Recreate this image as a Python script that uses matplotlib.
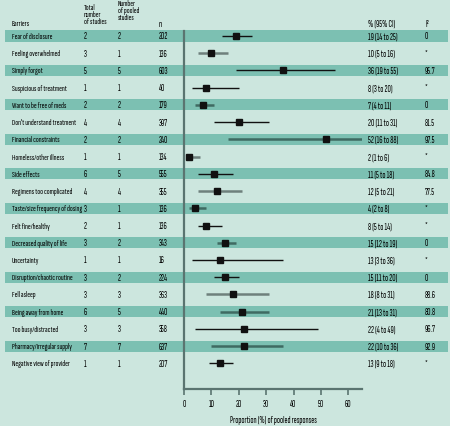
import matplotlib
matplotlib.use("Agg")
import matplotlib.pyplot as plt
from matplotlib.transforms import blended_transform_factory
from matplotlib.patches import Rectangle

plt.rcParams['font.family'] = ['Sofia Sans Extra Condensed', 'DejaVu Sans']

barriers = ["Fear of disclosure", "Feeling overwhelmed", "Simply forgot",
            "Suspicious of treatment", "Want to be free of meds",
            "Don't understand treatment", "Financial constraints",
            "Homeless/other illness", "Side effects", "Regimens too complicated",
            "Taste/size frequency of dosing", "Felt fine/healthy",
            "Decreased quality of life", "Uncertainty",
            "Disruption/chaotic routine", "Fell asleep", "Being away from home",
            "Too busy/distracted", "Pharmacy/irregular supply",
            "Negative view of provider"]
total_studies = [2, 3, 5, 1, 2, 4, 2, 1, 6, 4, 3, 2, 3, 1, 3, 3, 6, 3, 7, 1]
pooled_studies = [2, 1, 5, 1, 2, 4, 2, 1, 5, 4, 1, 1, 2, 1, 2, 3, 5, 3, 7, 1]
n_resp = [202, 136, 603, 40, 179, 397, 240, 134, 555, 355, 136, 136, 343, 16,
          224, 363, 440, 358, 637, 207]
pct = [19, 10, 36, 8, 7, 20, 52, 2, 11, 12, 4, 8, 15, 13, 15, 18, 21, 22, 22, 13]
ci_lo = [14, 5, 19, 3, 4, 11, 16, 1, 5, 5, 2, 5, 12, 3, 11, 8, 13, 4, 10, 9]
ci_hi = [25, 16, 55, 20, 11, 31, 88, 6, 18, 21, 8, 14, 19, 36, 20, 31, 31, 49, 36, 18]
i2 = ["0", "*", "95.7", "*", "0", "81.5", "97.5", "*", "84.8", "77.5", "*", "*",
      "0", "*", "0", "88.6", "80.8", "96.7", "92.9", "*"]
# k = black CI line, g = grey CI line
line_kind = ["k", "g", "k", "k", "g", "k", "g", "g", "k", "g", "g", "k", "g",
             "k", "k", "g", "g", "k", "g", "k"]

BG = "#cce6de"
STRIPE = "#7cc0b2"
AXC = "#5a7470"
W, H = 450.0, 427.0

fig = plt.figure(figsize=(4.5, 4.27), dpi=100, facecolor=BG)
# forest panel: x 184..362 px, y 31.7..390 px
ax = fig.add_axes([184 / W, (H - 390) / H, (362 - 184) / W, (390 - 31.7) / H])
ax.set_facecolor("none")

step = 17.23
ax.set_ylim((390 - 37) / step, -(37 - 31.7) / step)
ax.set_xlim(0, 65)

tr = blended_transform_factory(fig.transFigure, ax.transData)
fs = 6.5


def put(px, row, s, size=fs):
    ax.text(px / W, row, s, transform=tr, fontsize=size, va="center",
            ha="left", zorder=5)


for i, lab in enumerate(barriers):
    if i % 2 == 0:
        ax.add_patch(Rectangle((5 / W, i - 0.32), 443 / W, 0.64,
                               transform=tr, facecolor=STRIPE,
                               edgecolor="none", zorder=0, clip_on=False))
    put(12, i, lab, 6.0)
    put(84, i, str(total_studies[i]))
    put(118, i, str(pooled_studies[i]))
    put(159, i, str(n_resp[i]))
    put(368, i, "%d (%d to %d)" % (pct[i], ci_lo[i], ci_hi[i]))
    put(425, i, i2[i])

    if line_kind[i] == "k":
        col, lw = "#111111", 1.0
    else:
        col = "#3f6a62" if i % 2 == 0 else "#6e807c"
        lw = 1.8
    ax.plot([ci_lo[i], ci_hi[i]], [i, i], color=col, lw=lw, zorder=2,
            solid_capstyle="butt")
    ax.plot(pct[i], i, marker="s", ms=4, color="#111111", zorder=3)


def fy(py):
    return 1 - py / H


hs = 6.0
fig.text(12 / W, fy(24.3), "Barriers", fontsize=hs, va="center")
for txt, py in [("Total", 8.5), ("number", 15), ("of studies", 21.5)]:
    fig.text(84 / W, fy(py), txt, fontsize=hs, va="center")
for txt, py in [("Number", 4.5), ("of pooled", 11), ("studies", 17.5)]:
    fig.text(118 / W, fy(py), txt, fontsize=hs, va="center")
fig.text(159 / W, fy(24.3), "n", fontsize=fs, va="center")
fig.text(368 / W, fy(24.3), "% (95% CI)", fontsize=fs, va="center")
fig.text(425 / W, fy(24.3), "I²", fontsize=fs, va="center")

for s in ["top", "right"]:
    ax.spines[s].set_visible(False)
for s in ["left", "bottom"]:
    ax.spines[s].set_color(AXC)
    ax.spines[s].set_linewidth(1.6)
ax.set_yticks([])
ax.set_xticks(range(0, 70, 10))
ax.tick_params(axis="x", direction="out", length=4, width=1.2, color=AXC,
               labelsize=fs, pad=3)
ax.set_xlabel("Proportion (%) of pooled responses", fontsize=fs, labelpad=5)

fig.savefig("out.png", dpi=100, facecolor=BG)
